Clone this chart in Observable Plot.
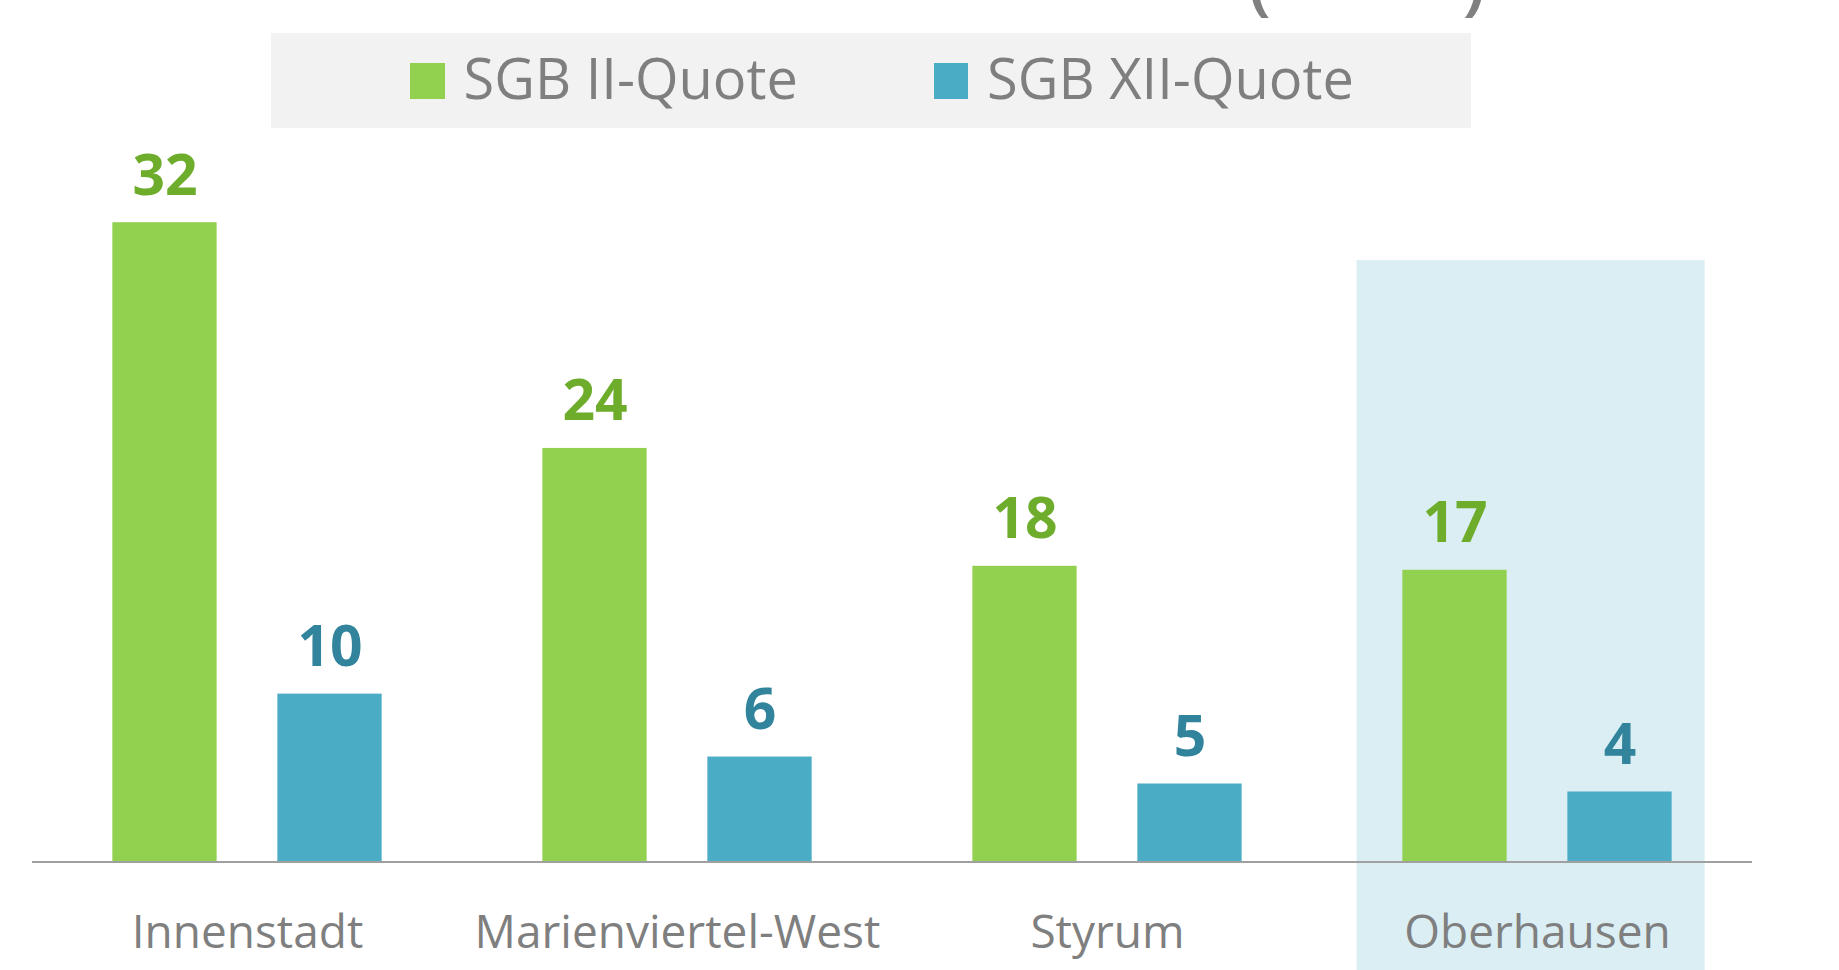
<!DOCTYPE html>
<html lang="de">
<head>
<meta charset="utf-8">
<script src="https://cdn.jsdelivr.net/npm/d3@7"></script>
<script src="https://cdn.jsdelivr.net/npm/@observablehq/plot@0.6"></script>
<style>
  html, body { margin: 0; padding: 0; background: #fff; overflow: hidden; }
  body { width: 1839px; height: 970px; position: relative; font-family: "Open Sans", sans-serif; }
  #title { position: absolute; left: 1248px; top: -57px; font-size: 72px; line-height: 72px; font-weight: 600; color: #808080; white-space: pre; }
  #title .gap { display: inline-block; width: 192px; }
  #top { position: relative; height: 128px; }
  #legend { position: absolute; left: 271px; top: 33px; width: 1200px; height: 95px; background: #f2f2f2; }
  .item { position: absolute; top: 16.3px; font-size: 56px; line-height: 56px; color: #7f7f7f; white-space: nowrap; }
  .sw { display: inline-block; width: 34.5px; height: 36px; vertical-align: baseline; margin-right: 19px; }
  #chart { display: block; }
</style>
</head>
<body>
<div id="title">(<span class="gap"></span>)</div>
<div id="top"><div id="legend"></div></div>
<div id="chart"></div>
<script>
// ---- data ----
const categories = ["Innenstadt", "Marienviertel-West", "Styrum", "Oberhausen"];
const seriesNames = ["SGB II-Quote", "SGB XII-Quote"];
// printed value labels
const sgb2Labels = [32, 24, 18, 17];
const sgb12Labels = [10, 6, 5, 4];
// bar lengths as drawn in the reference (they do not scale with the printed labels)
const sgb2Bars = [32.0, 20.7, 14.8, 14.6];
const sgb12Bars = [8.4, 5.25, 3.9, 3.5];
// highlighted region band
const highlightRegion = ["Oberhausen"];
const highlightTop = [30.1];

const barColors = ["#92D050", "#4BACC6"];
const labelColors = ["#6EAC2C", "#31849B"];

// ---- table built from the arrays ----
const rows = [];
categories.forEach((c, i) => {
  rows.push({region: c, series: seriesNames[0], bar: sgb2Bars[i], label: String(sgb2Labels[i])});
  rows.push({region: c, series: seriesNames[1], bar: sgb12Bars[i], label: String(sgb12Labels[i])});
});
const highlight = highlightRegion.map((r, i) => ({region: r, top: highlightTop[i]}));

// ---- legend (HTML, above the SVG) ----
const legend = document.getElementById("legend");
const itemLeft = [139, 662.6];
seriesNames.forEach((s, i) => {
  const it = document.createElement("div");
  it.className = "item";
  it.style.left = itemLeft[i] + "px";
  const sw = document.createElement("span");
  sw.className = "sw";
  sw.style.background = barColors[i];
  it.appendChild(sw);
  it.appendChild(document.createTextNode(s));
  legend.appendChild(it);
});

// ---- chart ----
const font = "Open Sans";
const chart = Plot.plot({
  width: 1839,
  height: 842,
  marginLeft: 32.4,
  marginRight: 86.6,
  marginTop: 34.3,
  marginBottom: 108.6,
  style: {background: "white", fontFamily: font, overflow: "visible"},
  fx: {domain: categories, paddingInner: 0, paddingOuter: 0, axis: null, label: null},
  x: {domain: seriesNames, paddingInner: 0.368, paddingOuter: 0.487, round: false, axis: null, label: null},
  y: {domain: [0, 35], axis: null, label: null},
  color: {domain: seriesNames, range: barColors},
  marks: [
    Plot.barY(highlight, {fx: "region", y: "top", fill: "#DAEEF3", insetLeft: 34.6, insetRight: 47.4, insetBottom: -108.6}),
    Plot.barY(rows, {fx: "region", x: "series", y: "bar", fill: "series"}),
    Plot.ruleY([0], {stroke: "#a0a0a0", strokeWidth: 2}),
    ...seriesNames.map((s, i) =>
      Plot.text(rows.filter(d => d.series === s), {
        fx: "region", x: "series", y: "bar", text: "label",
        fill: labelColors[i], fontSize: 57, fontWeight: "bold", fontFamily: font,
        lineAnchor: "bottom", dy: -28
      })
    ),
    Plot.text(categories, {
      fx: d => d, text: d => d, frameAnchor: "bottom", lineAnchor: "bottom", dy: 85.6,
      fill: "#7f7f7f", fontSize: 46, fontFamily: font
    })
  ]
});
document.getElementById("chart").appendChild(chart);
</script>
</body>
</html>
